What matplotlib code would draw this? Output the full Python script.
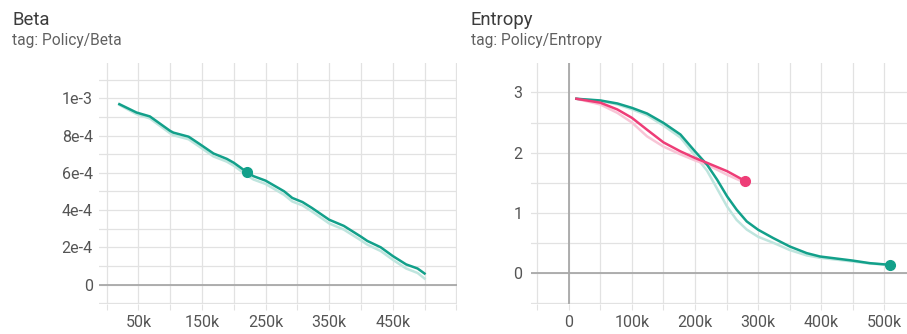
import matplotlib
matplotlib.use("Agg")
import matplotlib.pyplot as plt
from matplotlib.ticker import FixedLocator, NullFormatter

plt.rcParams['font.family'] = ['Roboto', 'DejaVu Sans']

TEAL = '#12a08a'
TEAL_RAW = '#bfe5de'
PINK = '#ee3d77'
PINK_RAW = '#f8c5d6'
GRID = '#e2e2e2'
ZERO = '#a8a8a8'

# Policy/Beta (single run)
beta_steps = [20e3, 47e3, 68e3, 100e3, 105e3, 129e3, 147e3, 168e3, 189e3, 200e3,
              220e3, 231e3, 250e3, 279e3, 292e3, 308e3, 323e3, 350e3, 373e3, 400e3,
              410e3, 431e3, 450e3, 471e3, 489e3, 500e3]
beta_smooth = [9.69, 9.24, 9.03, 8.25, 8.16, 7.94, 7.53, 7.04, 6.75, 6.54,
               6.05, 5.82, 5.58, 5.01, 4.65, 4.43, 4.11, 3.48, 3.15, 2.57,
               2.34, 2.00, 1.53, 1.08, 0.86, 0.59]
beta_raw = [9.65, 9.15, 8.92, 8.12, 8.02, 7.80, 7.38, 6.88, 6.60, 6.38,
            5.88, 5.64, 5.40, 4.82, 4.46, 4.25, 3.92, 3.28, 2.95, 2.37,
            2.14, 1.80, 1.33, 0.86, 0.62, 0.32]
beta_hover = 10  # index of highlighted point

# Policy/Entropy, run 1 (teal)
ent_steps_a = [12e3, 50e3, 77e3, 100e3, 124e3, 150e3, 177e3, 200e3, 219e3, 235e3,
               251e3, 266e3, 282e3, 300e3, 324e3, 350e3, 377e3, 398e3, 449e3, 477e3, 509e3]
ent_smooth_a = [2.895, 2.867, 2.817, 2.744, 2.65, 2.494, 2.30, 2.02, 1.80, 1.55,
                1.27, 1.05, 0.855, 0.717, 0.578, 0.439, 0.328, 0.272, 0.205, 0.161, 0.133]
ent_raw_a = [2.895, 2.86, 2.80, 2.72, 2.62, 2.45, 2.25, 1.95, 1.70, 1.40,
             1.10, 0.88, 0.72, 0.60, 0.50, 0.38, 0.29, 0.25, 0.19, 0.155, 0.13]

# Policy/Entropy, run 2 (pink)
ent_steps_b = [12e3, 50e3, 77e3, 100e3, 124e3, 150e3, 177e3, 200e3, 219e3, 251e3, 279e3]
ent_smooth_b = [2.895, 2.83, 2.717, 2.578, 2.38, 2.17, 2.02, 1.91, 1.83, 1.69, 1.53]
ent_raw_b = [2.895, 2.80, 2.66, 2.50, 2.27, 2.10, 1.97, 1.87, 1.80, 1.63, 1.50]

beta_major = [50e3, 150e3, 250e3, 350e3, 450e3]
beta_minor = [0, 100e3, 200e3, 300e3, 400e3, 500e3, 550e3]
beta_labels = ['50k', '150k', '250k', '350k', '450k']
beta_yticks = [0, 2e-4, 4e-4, 6e-4, 8e-4, 1e-3]
beta_ylabels = ['0', '2e-4', '4e-4', '6e-4', '8e-4', '1e-3']

ent_major = [0, 100e3, 200e3, 300e3, 400e3, 500e3]
ent_minor = [-50e3, 50e3, 150e3, 250e3, 350e3, 450e3]
ent_labels = ['0', '100k', '200k', '300k', '400k', '500k']
ent_yticks = [0, 1, 2, 3]
ent_ylabels = ['0', '1', '2', '3']

W, H = 907, 334
fig = plt.figure(figsize=(W / 100, H / 100), dpi=100)


def px_axes(x0, y0, x1, y1):
    return fig.add_axes([x0 / W, 1 - y1 / H, (x1 - x0) / W, (y1 - y0) / H])


def style(ax, xmaj, xmin, xlab, ymaj, ymin, ylab, ypad):
    for s in ax.spines.values():
        s.set_visible(False)
    ax.xaxis.set_major_locator(FixedLocator(xmaj))
    ax.xaxis.set_minor_locator(FixedLocator(xmin))
    ax.xaxis.set_minor_formatter(NullFormatter())
    ax.set_xticklabels(xlab)
    ax.yaxis.set_major_locator(FixedLocator(ymaj))
    ax.yaxis.set_minor_locator(FixedLocator(ymin))
    ax.set_yticklabels(ylab)
    ax.tick_params(axis='x', which='both', length=4.5, width=0.8, color=GRID,
                   labelsize=11.5, labelcolor='#555555', pad=3.5)
    ax.tick_params(axis='y', which='both', length=0, labelsize=11.5,
                   labelcolor='#555555', pad=ypad)
    ax.grid(True, which='both', color=GRID, linewidth=0.9, zorder=0)
    ax.set_axisbelow(True)


# Beta panel
ax1 = px_axes(99, 63, 457, 303.5)
ax1.set_xlim(-12e3, 551e3)
ax1.set_ylim(-1.02e-4, 1.19e-3)
style(ax1, beta_major, beta_minor, beta_labels, beta_yticks,
      [-1e-4, 1e-4, 3e-4, 5e-4, 7e-4, 9e-4, 1.1e-3], beta_ylabels, 4.5)
ax1.axhline(0, color=ZERO, linewidth=1.3, zorder=1)
ax1.plot(beta_steps, [v * 1e-4 for v in beta_raw], color=TEAL_RAW, linewidth=1.8, zorder=2)
ax1.plot(beta_steps, [v * 1e-4 for v in beta_smooth], color=TEAL, linewidth=1.8, zorder=3)
ax1.plot(beta_steps[beta_hover], beta_smooth[beta_hover] * 1e-4, 'o',
         color=TEAL, markersize=7, zorder=4)

# Entropy panel
ax2 = px_axes(530.7, 63, 907, 303.5)
ax2.set_xlim(-60.4e3, 536e3)
ax2.set_ylim(-0.51, 3.49)
style(ax2, ent_major, ent_minor, ent_labels, ent_yticks,
      [-0.5, 0.5, 1.5, 2.5], ent_ylabels, 6)
ax2.axhline(0, color=ZERO, linewidth=1.3, zorder=1)
ax2.axvline(0, color=ZERO, linewidth=1.3, zorder=1)
ax2.plot(ent_steps_a, ent_raw_a, color=TEAL_RAW, linewidth=1.8, zorder=2)
ax2.plot(ent_steps_b, ent_raw_b, color=PINK_RAW, linewidth=1.8, zorder=2)
ax2.plot(ent_steps_a, ent_smooth_a, color=TEAL, linewidth=1.8, zorder=3)
ax2.plot(ent_steps_b, ent_smooth_b, color=PINK, linewidth=1.8, zorder=3)
ax2.plot(ent_steps_a[-1], ent_smooth_a[-1], 'o', color=TEAL, markersize=7, zorder=4)
ax2.plot(ent_steps_b[-1], ent_smooth_b[-1], 'o', color=PINK, markersize=7, zorder=4)

# card headers
for x, title, tag in [(12, 'Beta', 'tag: Policy/Beta'),
                      (471, 'Entropy', 'tag: Policy/Entropy')]:
    fig.text(x / W, 1 - 25 / H, title, fontsize=13.3, color='#3c3c3c', va='baseline')
    fig.text(x / W, 1 - 45.5 / H, tag, fontsize=11.2, color='#616161', va='baseline')

fig.savefig('out.png', dpi=100)
